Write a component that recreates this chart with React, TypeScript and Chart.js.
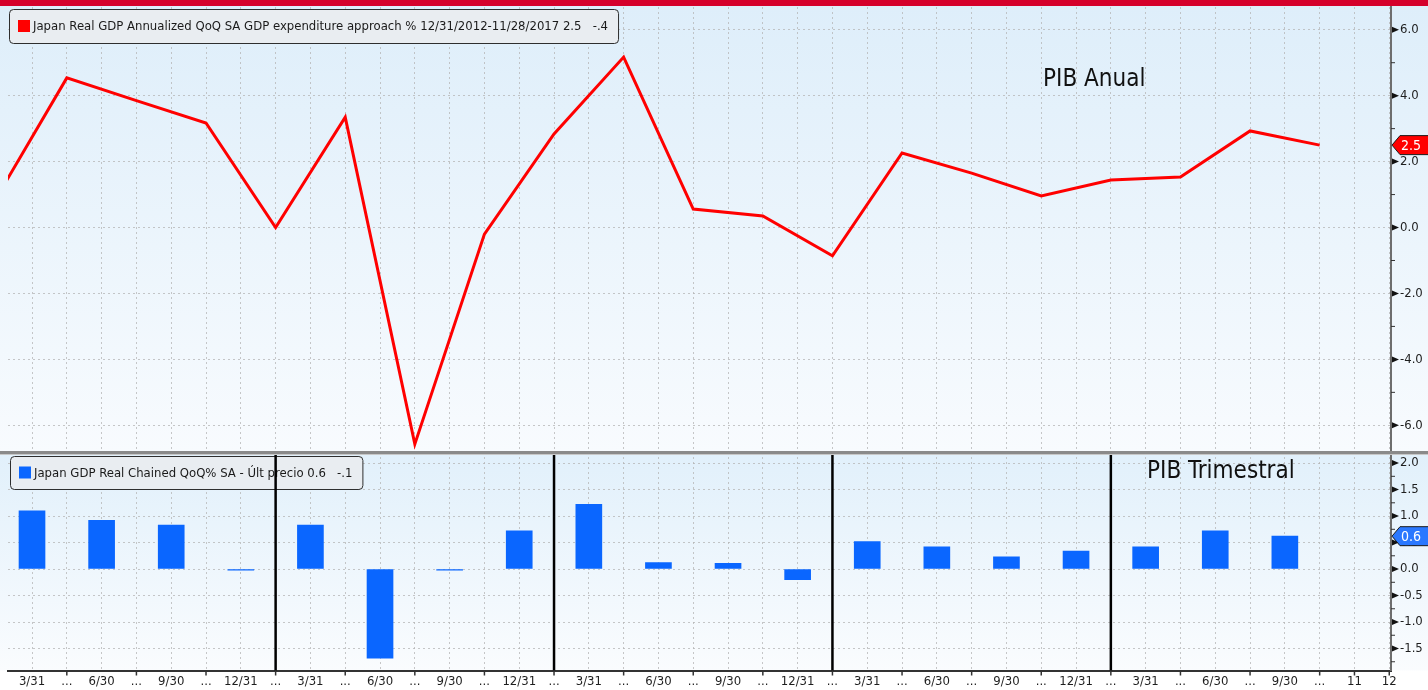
import React, { useEffect, useRef } from 'react';
import { Chart, registerables } from 'chart.js';

Chart.register(...registerables);

// ---- data ----
const xTickLabels: string[] = [
  '3/31', '...', '6/30', '...', '9/30', '...', '12/31', '...',
  '3/31', '...', '6/30', '...', '9/30', '...', '12/31', '...',
  '3/31', '...', '6/30', '...', '9/30', '...', '12/31', '...',
  '3/31', '...', '6/30', '...', '9/30', '...', '12/31', '...',
  '3/31', '...', '6/30', '...', '9/30', '...', '11', '12',
];

// Annualized QoQ (%), quarter Q4-2012 .. Q3-2017
const annualValues: number[] = [
  0.94, 4.54, 3.85, 3.17, 0.0, 3.35, -6.57, -0.2, 2.84, 5.17,
  0.56, 0.35, -0.86, 2.26, 1.65, 0.96, 1.44, 1.53, 2.93, 2.5,
];

// QoQ (%), quarter Q1-2013 .. Q3-2017
const quarterValues: number[] = [
  1.1, 0.92, 0.83, -0.02, 0.83, -1.68, -0.02, 0.72, 1.22, 0.12,
  0.11, -0.2, 0.52, 0.42, 0.23, 0.34, 0.42, 0.72, 0.62,
];

// year boundaries (slot index on the x axis)
const yearBreaks: number[] = [7, 15, 23, 31];

const legendTop = 'Japan Real GDP Annualized QoQ SA GDP expenditure approach % 12/31/2012-11/28/2017 2.5   -.4';
const legendBottom = 'Japan GDP Real Chained QoQ% SA - Últ precio 0.6   -.1';
const titleTop = 'PIB Anual';
const titleBottom = 'PIB Trimestral';

const W = 1428;
const H = 690;
const FONT = '"DejaVu Sans Condensed", "DejaVu Sans", sans-serif';

function roundRect(ctx: CanvasRenderingContext2D, x: number, y: number, w: number, h: number, r: number) {
  ctx.beginPath();
  ctx.moveTo(x + r, y);
  ctx.lineTo(x + w - r, y);
  ctx.quadraticCurveTo(x + w, y, x + w, y + r);
  ctx.lineTo(x + w, y + h - r);
  ctx.quadraticCurveTo(x + w, y + h, x + w - r, y + h);
  ctx.lineTo(x + r, y + h);
  ctx.quadraticCurveTo(x, y + h, x, y + h - r);
  ctx.lineTo(x, y + r);
  ctx.quadraticCurveTo(x, y, x + r, y);
  ctx.closePath();
}

function drawLegend(ctx: CanvasRenderingContext2D, x: number, y: number, h: number, color: string, text: string) {
  ctx.save();
  ctx.font = `13px ${FONT}`;
  const tw = ctx.measureText(text).width;
  const w = 24 + tw + 10;
  roundRect(ctx, x + 0.5, y + 0.5, w, h, 4);
  ctx.fillStyle = '#e9edf1';
  ctx.fill();
  ctx.strokeStyle = '#2e2e2e';
  ctx.lineWidth = 1;
  ctx.stroke();
  ctx.fillStyle = color;
  ctx.fillRect(x + 9, y + h / 2 - 6, 12, 12);
  ctx.fillStyle = '#1a1a1a';
  ctx.textBaseline = 'middle';
  ctx.textAlign = 'left';
  ctx.fillText(text, x + 24, y + h / 2 + 1);
  ctx.restore();
}

function drawBadge(ctx: CanvasRenderingContext2D, x0: number, cy: number, color: string, text: string) {
  const h = 19;
  ctx.save();
  ctx.beginPath();
  ctx.moveTo(x0, cy);
  ctx.lineTo(x0 + 8, cy - h / 2);
  ctx.lineTo(W + 2, cy - h / 2);
  ctx.lineTo(W + 2, cy + h / 2);
  ctx.lineTo(x0 + 8, cy + h / 2);
  ctx.closePath();
  ctx.fillStyle = color;
  ctx.fill();
  ctx.strokeStyle = '#1a1a1a';
  ctx.lineWidth = 1;
  ctx.stroke();
  ctx.fillStyle = '#ffffff';
  ctx.font = `14px ${FONT}`;
  ctx.textBaseline = 'middle';
  ctx.textAlign = 'left';
  ctx.fillText(text, x0 + 9, cy + 1);
  ctx.restore();
}

function drawAxisMarks(ctx: CanvasRenderingContext2D, scale: any, minorStep: number) {
  const ax = scale.left;
  const start = Math.ceil(scale.min / minorStep);
  const end = Math.floor(scale.max / minorStep);
  ctx.save();
  for (let k = start; k <= end; k++) {
    const py = scale.getPixelForValue(k * minorStep);
    if (k % 2 === 0) {
      ctx.beginPath();
      ctx.moveTo(ax + 1, py - 3);
      ctx.lineTo(ax + 1, py + 3);
      ctx.lineTo(ax + 8, py);
      ctx.closePath();
      ctx.fillStyle = '#111';
      ctx.fill();
    } else {
      ctx.beginPath();
      ctx.moveTo(ax, py);
      ctx.lineTo(ax + 4, py);
      ctx.strokeStyle = '#333';
      ctx.lineWidth = 1;
      ctx.stroke();
    }
  }
  ctx.restore();
}

const bbgPlugin = {
  id: 'bbgStyle',
  beforeDraw(chart: any) {
    const { ctx } = chart;
    const y = chart.scales.y;
    const y2 = chart.scales.y2;
    ctx.save();
    ctx.fillStyle = '#ffffff';
    ctx.fillRect(0, 0, W, H);
    let g = ctx.createLinearGradient(0, y.top, 0, y.bottom);
    g.addColorStop(0, '#deeefa');
    g.addColorStop(1, '#f8fbfe');
    ctx.fillStyle = g;
    ctx.fillRect(0, 0, W, y.bottom);
    g = ctx.createLinearGradient(0, y2.top, 0, y2.bottom);
    g.addColorStop(0, '#e1f0fb');
    g.addColorStop(1, '#fafcfe');
    ctx.fillStyle = g;
    ctx.fillRect(0, y2.top, W, y2.bottom - y2.top);
    ctx.restore();
  },
  beforeDatasetsDraw(chart: any) {
    const { ctx } = chart;
    const y2 = chart.scales.y2;
    drawLegend(ctx, 9, 9, 34, '#ff0000', legendTop);
    drawLegend(ctx, 10, y2.top + 3, 33, '#0a66ff', legendBottom);
  },
  afterDatasetsDraw(chart: any) {
    const { ctx } = chart;
    const x = chart.scales.x;
    const y = chart.scales.y;
    const y2 = chart.scales.y2;
    ctx.save();
    ctx.strokeStyle = '#000000';
    ctx.lineWidth = 2.5;
    for (const b of yearBreaks) {
      const px = x.getPixelForValue(b);
      ctx.beginPath();
      ctx.moveTo(px, y2.top);
      ctx.lineTo(px, y2.bottom);
      ctx.stroke();
    }
    ctx.fillStyle = '#111111';
    ctx.font = `24px ${FONT}`;
    ctx.textBaseline = 'alphabetic';
    ctx.textAlign = 'left';
    ctx.fillText(titleTop, 1043, y.top + 79);
    ctx.fillText(titleBottom, 1147, y2.top + 25);
    ctx.restore();
  },
  afterDraw(chart: any) {
    const { ctx } = chart;
    const x = chart.scales.x;
    const y = chart.scales.y;
    const y2 = chart.scales.y2;
    // panel separator
    ctx.save();
    ctx.fillStyle = '#8a8a8a';
    ctx.fillRect(0, y.bottom - 2, W, 3);
    ctx.fillStyle = '#c8c8c8';
    ctx.fillRect(0, y.bottom + 1, W, 1);
    // top red band
    ctx.fillStyle = '#d5002b';
    ctx.fillRect(0, 0, W, 6);
    ctx.restore();
    // axis marks
    drawAxisMarks(ctx, y, 1);
    drawAxisMarks(ctx, y2, 0.25);
    ctx.save();
    ctx.strokeStyle = '#333';
    ctx.lineWidth = 1.5;
    for (let i = 0; i < xTickLabels.length; i++) {
      if (i % 2 === 1 || i >= xTickLabels.length - 2) {
        const px = x.getPixelForValue(i);
        ctx.beginPath();
        ctx.moveTo(px, x.top);
        ctx.lineTo(px, x.top + 5);
        ctx.stroke();
      }
    }
    ctx.restore();
    // last value badges
    const lastA = annualValues[annualValues.length - 1];
    const lastQ = quarterValues[quarterValues.length - 1];
    drawBadge(ctx, y.left + 1, y.getPixelForValue(lastA), '#ff0000', lastA.toFixed(1));
    drawBadge(ctx, y2.left + 1, y2.getPixelForValue(lastQ), '#2a78ff', lastQ.toFixed(1));
  },
};

const noPadV = (s: any) => {
  s.width = 37;
  s.paddingTop = 0;
  s.paddingBottom = 0;
};

export default function App() {
  const canvasRef = useRef<HTMLCanvasElement | null>(null);

  useEffect(() => {
    const canvas = canvasRef.current;
    if (!canvas) return;
    const tickFont = { family: FONT, size: 13 };
    const gridStyle = { color: 'rgba(180,180,180,0.75)', lineWidth: 1, drawTicks: false, offset: false };
    const chart = new Chart(canvas, {
      data: {
        datasets: [
          {
            type: 'line',
            label: legendTop,
            data: annualValues.map((v, k) => ({ x: 2 * k - 1, y: v })),
            xAxisID: 'x',
            yAxisID: 'y',
            borderColor: '#ff0000',
            borderWidth: 3,
            pointRadius: 0,
            tension: 0,
            fill: false,
            clip: 0,
            order: 0,
          } as any,
          {
            type: 'bar',
            label: legendBottom,
            data: quarterValues.map((v, q) => ({ x: 2 * q, y: v })),
            xAxisID: 'x',
            yAxisID: 'y2',
            backgroundColor: '#0a66ff',
            barThickness: 26,
            order: 1,
          } as any,
        ],
      },
      options: {
        animation: false,
        responsive: false,
        devicePixelRatio: 1,
        layout: { padding: { left: 8, top: 7, right: 0, bottom: 0 } },
        plugins: {
          legend: { display: false },
          tooltip: { enabled: false },
          title: { display: false },
        },
        scales: {
          x: {
            type: 'linear',
            position: 'bottom',
            offset: false,
            min: -0.69,
            max: 39.05,
            afterBuildTicks: (s: any) => {
              s.ticks = xTickLabels.map((_, i) => ({ value: i }));
            },
            afterFit: (s: any) => {
              s.height = 19.5;
              s.paddingLeft = 0;
              s.paddingRight = 0;
            },
            ticks: {
              autoSkip: false,
              maxRotation: 0,
              minRotation: 0,
              padding: 3,
              color: '#1e1e1e',
              font: tickFont,
              callback: (v: any) => xTickLabels[Math.round(Number(v))] ?? '',
            },
            grid: gridStyle,
            border: { display: true, color: '#333333', width: 2, dash: [2, 3] },
          },
          y: {
            type: 'linear',
            position: 'right',
            stack: 'panels',
            stackWeight: 446,
            min: -6.84,
            max: 6.69,
            afterFit: noPadV,
            ticks: {
              stepSize: 2,
              includeBounds: false,
              autoSkip: false,
              padding: 9,
              color: '#1e1e1e',
              font: tickFont,
              callback: (v: any) => Number(v).toFixed(1),
            },
            grid: gridStyle,
            border: { display: true, color: '#6e6e6e', width: 2, dash: [2, 3] },
          },
          y2: {
            type: 'linear',
            position: 'right',
            stack: 'panels',
            stackWeight: 217.5,
            min: -1.915,
            max: 2.19,
            afterFit: noPadV,
            ticks: {
              stepSize: 0.5,
              includeBounds: false,
              autoSkip: false,
              padding: 9,
              color: '#1e1e1e',
              font: tickFont,
              callback: (v: any) => Number(v).toFixed(1),
            },
            grid: gridStyle,
            border: { display: true, color: '#6e6e6e', width: 2, dash: [2, 3] },
          },
        },
      } as any,
      plugins: [bbgPlugin as any],
    });
    return () => chart.destroy();
  }, []);

  return (
    <div style={{ position: 'absolute', left: 0, top: 0, width: W, height: H, background: '#fff' }}>
      <canvas ref={canvasRef} width={W} height={H} style={{ display: 'block', width: W, height: H }} />
    </div>
  );
}
